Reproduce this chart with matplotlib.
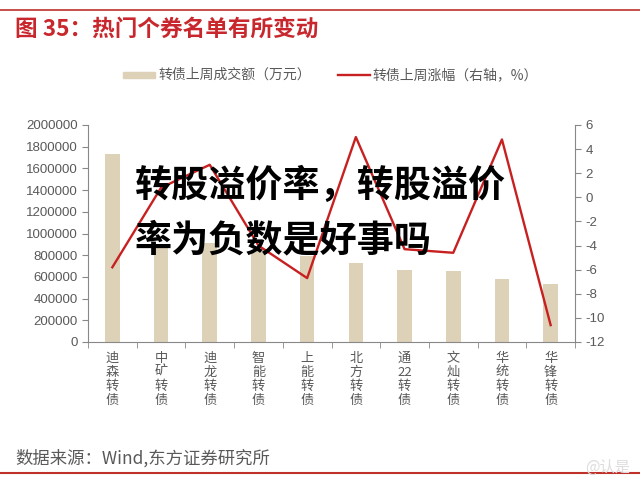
import matplotlib.pyplot as plt
from matplotlib.ticker import FuncFormatter
import numpy as np

plt.rcParams['font.family'] = ['Noto Sans CJK SC', 'DejaVu Sans']

# 数据（读图估算）
names = ['迪森转债', '中矿转债', '迪龙转债', '智能转债', '上能转债',
         '北方转债', '通22转债', '文灿转债', '华统转债', '华锋转债']
volume = [1730000, 900000, 910000, 850000, 790000, 725000, 665000, 655000, 585000, 535000]
change = [-5.8, 0.8, 2.7, -4.0, -6.7, 5.0, -4.3, -4.6, 4.8, -10.6]

bar_color = '#ddd1b8'
line_color = '#c82020'
grey = '#595959'
num_font = ['Liberation Sans', 'DejaVu Sans']

fig = plt.figure(figsize=(6.4, 4.91), dpi=100)
ax = fig.add_axes([88 / 640, 1 - 342 / 491, 487 / 640, 217 / 491])
ax2 = ax.twinx()

x = np.arange(len(names))
ax.bar(x, volume, width=0.3, color=bar_color, zorder=1)
ax2.plot(x, change, color=line_color, linewidth=1.7)

ax.set_xlim(-0.5, len(names) - 0.5)
ax.set_ylim(0, 2000000)
ax.set_yticks(np.arange(0, 2000001, 200000))
ax.yaxis.set_major_formatter(FuncFormatter(lambda v, p: '%d' % v))
ax2.set_ylim(-12, 6)
ax2.set_yticks(np.arange(-12, 7, 2))
ax2.yaxis.set_major_formatter(FuncFormatter(lambda v, p: '%d' % v))

# 竖排类目标签
labels = []
for n in names:
    if '22' in n:
        labels.append('通\n22\n转\n债')
    else:
        labels.append('\n'.join(n))
ax.set_xticks(x)
ax.set_xticklabels(labels, fontsize=9.5, color=grey, linespacing=1.1)
ax.set_xticks(np.arange(-0.5, len(names), 1), minor=True)
ax.tick_params(axis='x', which='major', length=0, pad=7)
ax.tick_params(axis='x', which='minor', length=4, color='#888888', direction='out')

for a in (ax, ax2):
    for s in a.spines.values():
        s.set_visible(False)
ax.spines['left'].set_visible(True)
ax.spines['bottom'].set_visible(True)
ax2.spines['right'].set_visible(True)
for s in (ax.spines['left'], ax.spines['bottom'], ax2.spines['right']):
    s.set_color('#888888')
    s.set_linewidth(0.8)

ax.tick_params(axis='y', labelsize=9.5, labelcolor=grey, color='#888888', length=4)
ax2.tick_params(axis='y', labelsize=9.5, labelcolor=grey, color='#888888', length=4)
for t in ax.get_yticklabels() + ax2.get_yticklabels():
    t.set_family(num_font)

# 标题、图例、来源
fig.add_artist(plt.Line2D([0, 1], [1 - 10 / 491, 1 - 10 / 491], color='#c0302b', linewidth=1.2))
fig.text(15 / 640, 1 - 29 / 491, '图 35：热门个券名单有所变动', fontsize=16.3, color='#c8282d',
         fontweight='bold', va='center', ha='left')

fig.add_artist(plt.Rectangle((123 / 640, 1 - 78 / 491), 32 / 640, 6 / 491, color=bar_color))
fig.text(158 / 640, 1 - 75 / 491, '转债上周成交额（万元）', fontsize=10, color=grey, va='center')
fig.add_artist(plt.Line2D([338 / 640, 370 / 640], [1 - 75 / 491, 1 - 75 / 491], color=line_color, linewidth=1.7))
fig.text(372 / 640, 1 - 75 / 491, '转债上周涨幅（右轴，%）', fontsize=10, color=grey, va='center')

fig.text(15 / 640, 1 - 458 / 491, '数据来源：Wind,东方证券研究所', fontsize=12.5, color=grey, va='center')
fig.add_artist(plt.Line2D([0, 1], [1 - 473 / 491, 1 - 473 / 491], color='#c0302b', linewidth=1.5))

# 覆盖的标题文字
fig.text(135 / 640, 1 - 186 / 491, '转股溢价率，转股溢价', fontsize=26.7, color='black',
         fontweight='black', va='center', ha='left', zorder=10)
fig.text(135 / 640, 1 - 241 / 491, '率为负数是好事吗', fontsize=26.7, color='black',
         fontweight='black', va='center', ha='left', zorder=10)
fig.text(630 / 640, 1 - 467 / 491, '@认是', fontsize=11, color='#dddddd', va='center', ha='right')

fig.savefig('out.png', dpi=100)
